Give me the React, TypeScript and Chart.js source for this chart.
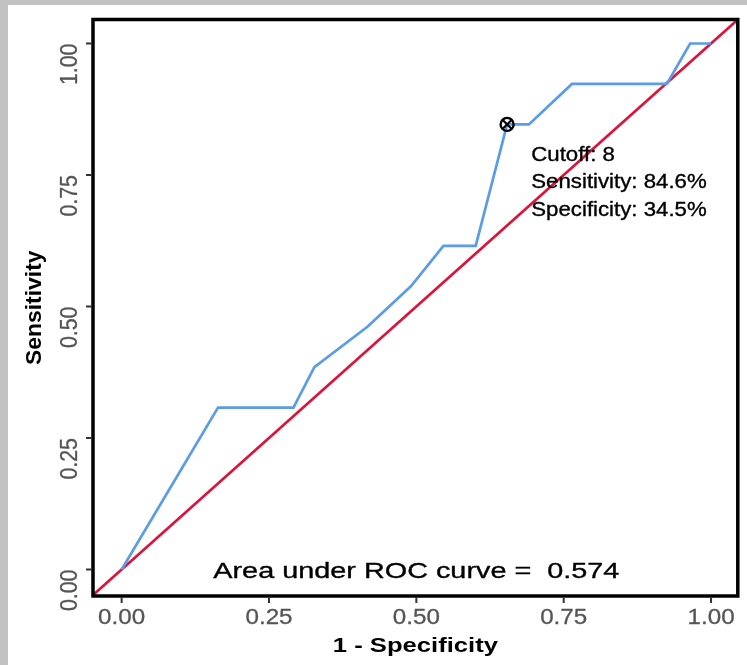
import React, { useEffect, useRef } from "react";
import { Chart, registerables } from "chart.js";

Chart.register(...registerables);

// ROC curve (1 - specificity, sensitivity)
const fprValues = [0, 0.1635, 0.2915, 0.327, 0.417, 0.4907, 0.546, 0.6007, 0.654, 0.691, 0.764, 0.925, 0.9645, 1.0];
const tprValues = [0, 0.3077, 0.3077, 0.3846, 0.4615, 0.5385, 0.6154, 0.6154, 0.8462, 0.8462, 0.9231, 0.9231, 1, 1];
// reference diagonal
const diagX = [-0.05, 1.05];
const diagY = [-0.05, 1.05];
// optimal cutoff
const cutoffValue = 8;
const cutoffFpr = 0.654;
const cutoffTpr = 0.8462;
const sensitivityPct = "84.6%";
const specificityPct = "34.5%";
const aucValue = "0.574";
// ticks
const tickValues = [0, 0.25, 0.5, 0.75, 1];
const tickLabels = ["0.00", "0.25", "0.50", "0.75", "1.00"];
const xTitle = "1 - Specificity";
const yTitle = "Sensitivity";

const FONT = '"Liberation Sans", Arial, Helvetica, sans-serif';

function drawScaledText(
  ctx: CanvasRenderingContext2D,
  text: string,
  x: number,
  y: number,
  font: string,
  color: string,
  align: CanvasTextAlign,
  sx: number,
  rot = 0,
  heavy = 0
) {
  ctx.save();
  ctx.translate(x, y);
  if (rot) ctx.rotate(rot);
  ctx.scale(sx, 1);
  ctx.font = font;
  ctx.fillStyle = color;
  ctx.textAlign = align;
  ctx.textBaseline = "alphabetic";
  ctx.fillText(text, 0, 0);
  if (heavy > 0) {
    ctx.strokeStyle = color;
    ctx.lineWidth = heavy;
    ctx.lineJoin = "round";
    ctx.strokeText(text, 0, 0);
  }
  ctx.restore();
}

const decorPlugin = {
  id: "decor",
  beforeDraw(chart: any) {
    const ctx = chart.ctx as CanvasRenderingContext2D;
    ctx.save();
    ctx.fillStyle = "#ffffff";
    ctx.fillRect(0, 0, chart.width, chart.height);
    ctx.fillStyle = "#c2c2c2";
    ctx.fillRect(0, 0, chart.width, 5);
    ctx.fillRect(0, 0, 8, chart.height);
    ctx.restore();
  },
  afterDraw(chart: any) {
    const ctx = chart.ctx as CanvasRenderingContext2D;
    const xs = chart.scales.x;
    const ys = chart.scales.y;
    const ca = chart.chartArea;
    ctx.save();
    // panel border
    ctx.strokeStyle = "#000000";
    ctx.lineWidth = 3.5;
    ctx.strokeRect(ca.left, ca.top, ca.right - ca.left, ca.bottom - ca.top);

    // ticks
    ctx.strokeStyle = "#333333";
    ctx.lineWidth = 2;
    tickValues.forEach((v, i) => {
      const px = xs.getPixelForValue(v);
      ctx.beginPath();
      ctx.moveTo(px, ca.bottom + 1);
      ctx.lineTo(px, ca.bottom + 7);
      ctx.stroke();
      const py = ys.getPixelForValue(v);
      ctx.beginPath();
      ctx.moveTo(ca.left - 1, py);
      ctx.lineTo(ca.left - 7, py);
      ctx.stroke();
      drawScaledText(ctx, tickLabels[i], px, 624, `22px ${FONT}`, "#555555", "center", 1.1, 0, 0.3);
      drawScaledText(ctx, tickLabels[i], 77, py, `23px ${FONT}`, "#555555", "right", 0.93, -Math.PI / 2, 0.3);
    });

    // axis titles
    const cx = (ca.left + ca.right) / 2;
    drawScaledText(ctx, xTitle, cx, 652, `bold 21px ${FONT}`, "#000000", "center", 1.22);
    const cy = (ca.top + ca.bottom) / 2;
    drawScaledText(ctx, yTitle, 41, cy, `bold 22px ${FONT}`, "#000000", "center", 1.04, -Math.PI / 2);

    // cutoff annotation
    const ax = xs.getPixelForValue(0.695);
    const lines = [
      [`Cutoff: ${cutoffValue}`, 0.777],
      [`Sensitivity: ${sensitivityPct}`, 0.7247],
      [`Specificity: ${specificityPct}`, 0.672],
    ] as [string, number][];
    lines.forEach(([t, v]) => {
      drawScaledText(ctx, t, ax, ys.getPixelForValue(v), `19.5px ${FONT}`, "#000000", "left", 1.14, 0, 0.35);
    });

    // AUC text
    drawScaledText(
      ctx,
      `Area under ROC curve =  ${aucValue}`,
      xs.getPixelForValue(0.5),
      ys.getPixelForValue(-0.016),
      `22px ${FONT}`,
      "#000000",
      "center",
      1.31,
      0,
      0.35
    );
    ctx.restore();
  },
};

export default function App() {
  const ref = useRef<HTMLCanvasElement | null>(null);
  useEffect(() => {
    if (!ref.current) return;
    const chart = new Chart(ref.current, {
      type: "scatter",
      data: {
        datasets: [
          {
            label: "diag",
            data: diagX.map((x, i) => ({ x, y: diagY[i] })),
            showLine: true,
            borderColor: "#dc143c",
            borderWidth: 2.7,
            pointRadius: 0,
            order: 2,
          },
          {
            label: "roc",
            data: fprValues.map((x, i) => ({ x, y: tprValues[i] })),
            showLine: true,
            borderColor: "#5b9ce6",
            borderWidth: 2.7,
            pointRadius: 0,
            order: 1,
          },
          {
            label: "cutoffCircle",
            data: [{ x: cutoffFpr, y: cutoffTpr }],
            pointStyle: "circle",
            pointRadius: 6.5,
            borderColor: "#000000",
            backgroundColor: "rgba(0,0,0,0)",
            borderWidth: 2.4,
            order: 0,
          },
          {
            label: "cutoffCross",
            data: [{ x: cutoffFpr, y: cutoffTpr }],
            pointStyle: "crossRot",
            pointRadius: 7,
            borderColor: "#000000",
            borderWidth: 2.2,
            order: 0,
          },
        ],
      },
      options: {
        animation: false,
        responsive: false,
        maintainAspectRatio: false,
        devicePixelRatio: 1,
        layout: { padding: { left: 93, top: 19.5, right: 7.5, bottom: 69 } },
        plugins: { legend: { display: false }, tooltip: { enabled: false } },
        scales: {
          x: { type: "linear", display: false, min: -0.0486, max: 1.0454 },
          y: { type: "linear", display: false, min: -0.0504, max: 1.0456 },
        },
      },
      plugins: [decorPlugin],
    });
    return () => chart.destroy();
  }, []);
  return (
    <div style={{ position: "fixed", left: 0, top: 0, width: 747, height: 665 }}>
      <canvas ref={ref} width={747} height={665} style={{ display: "block" }} />
    </div>
  );
}
